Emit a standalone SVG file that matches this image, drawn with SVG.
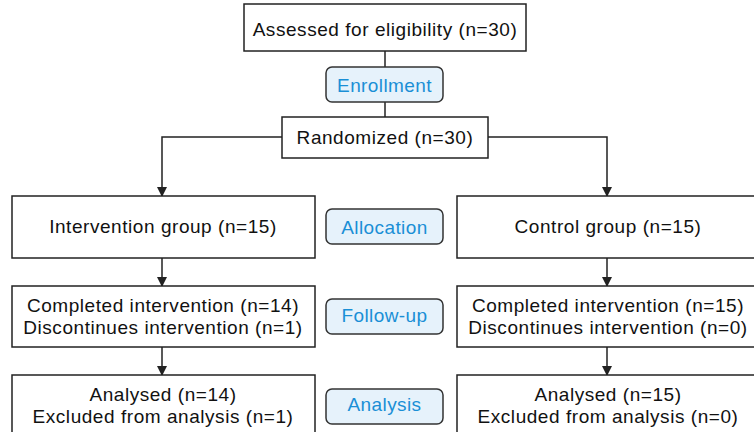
<svg xmlns="http://www.w3.org/2000/svg" width="754" height="432" viewBox="0 0 754 432">
<defs>
<style>
.box{fill:#fff;stroke:#222;stroke-width:1.5}
.pill{fill:#e6f2fb;stroke:#333;stroke-width:1.5}
.t{font-family:"Liberation Sans",Arial,sans-serif;font-size:19px;letter-spacing:0.55px;fill:#111;text-anchor:middle}
.p{font-family:"Liberation Sans",Arial,sans-serif;font-size:19px;letter-spacing:0.4px;fill:#1a8fd6;text-anchor:middle}
.c{fill:none;stroke:#222;stroke-width:1.5}
</style>
<marker id="ah" markerWidth="10" markerHeight="10" refX="9" refY="5" orient="auto" markerUnits="userSpaceOnUse">
<path d="M0,0 L10,5 L0,10 Z" fill="#222"/>
</marker>
</defs>
<rect width="754" height="432" fill="#fff"/>
<g id="connectors">
<line class="c" x1="385" y1="51" x2="385" y2="117"/>
<polyline class="c" points="282,137 162,137 162,196" marker-end="url(#ah)"/>
<polyline class="c" points="488,137 607,137 607,196" marker-end="url(#ah)"/>
<line class="c" x1="162" y1="258" x2="162" y2="286" marker-end="url(#ah)"/>
<line class="c" x1="162" y1="347" x2="162" y2="375" marker-end="url(#ah)"/>
<line class="c" x1="607" y1="258" x2="607" y2="286" marker-end="url(#ah)"/>
<line class="c" x1="607" y1="347" x2="607" y2="375" marker-end="url(#ah)"/>
</g>
<g id="assessed"><rect class="box" x="244" y="4" width="282" height="47"/><text class="t" x="385" y="36">Assessed for eligibility (n=30)</text></g>
<g id="enrollment"><rect class="pill" x="326" y="67" width="117" height="35" rx="6"/><text class="p" x="384.5" y="92">Enrollment</text></g>
<g id="randomized"><rect class="box" x="282" y="117" width="206" height="41"/><text class="t" x="385" y="144">Randomized (n=30)</text></g>
<g id="intervention"><rect class="box" x="12" y="196" width="303" height="62"/><text class="t" x="163" y="233">Intervention group (n=15)</text></g>
<g id="allocation"><rect class="pill" x="326" y="209" width="117" height="35" rx="6"/><text class="p" x="384.5" y="234">Allocation</text></g>
<g id="control"><rect class="box" x="457" y="196" width="303" height="62"/><text class="t" x="608" y="233">Control group (n=15)</text></g>
<g id="followup-int"><rect class="box" x="12" y="286" width="303" height="61"/><text class="t" y="311.5"><tspan x="163">Completed intervention (n=14)</tspan><tspan x="163" dy="22">Discontinues intervention (n=1)</tspan></text></g>
<g id="followup"><rect class="pill" x="326" y="299" width="117" height="35" rx="6"/><text class="p" x="384.5" y="322">Follow-up</text></g>
<g id="followup-ctl"><rect class="box" x="457" y="286" width="303" height="61"/><text class="t" y="311.5"><tspan x="608">Completed intervention (n=15)</tspan><tspan x="608" dy="22">Discontinues intervention (n=0)</tspan></text></g>
<g id="analysis-int"><rect class="box" x="12" y="375" width="303" height="62"/><text class="t" y="400.5"><tspan x="163">Analysed (n=14)</tspan><tspan x="163" dy="22">Excluded from analysis (n=1)</tspan></text></g>
<g id="analysis"><rect class="pill" x="326" y="389" width="117" height="35" rx="6"/><text class="p" x="384.5" y="411">Analysis</text></g>
<g id="analysis-ctl"><rect class="box" x="457" y="375" width="303" height="62"/><text class="t" y="400.5"><tspan x="608">Analysed (n=15)</tspan><tspan x="608" dy="22">Excluded from analysis (n=0)</tspan></text></g>
</svg>
